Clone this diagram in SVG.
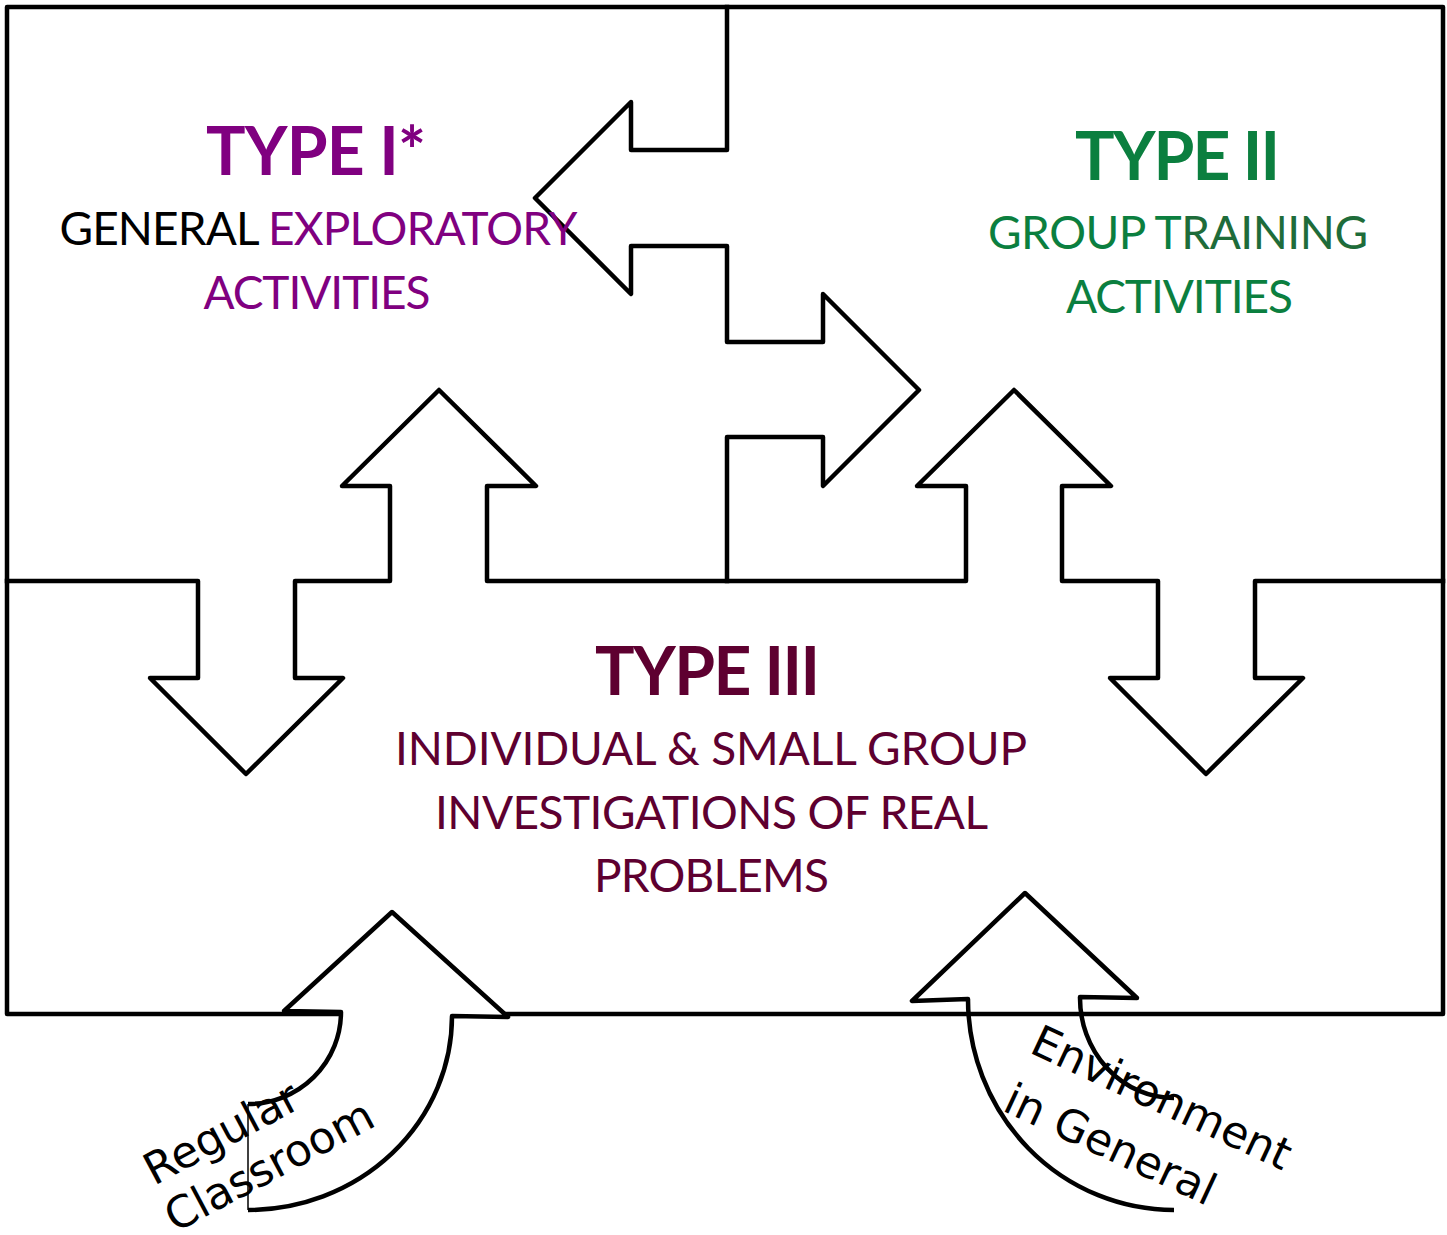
<svg xmlns="http://www.w3.org/2000/svg" width="1447" height="1235" viewBox="0 0 1447 1235">
<style>
.ln{fill:none;stroke:#000;stroke-width:4.5;stroke-linejoin:round;stroke-linecap:square}
.cal{font-family:Lato,"Open Sans","Liberation Sans",sans-serif;text-anchor:middle}
.hd{font-size:66px;font-weight:bold}
.sb{font-size:46px}
.dv{font-family:"DejaVu Sans","Liberation Sans",sans-serif;font-size:44px;fill:#000}
.p{fill:#800080}
.g{fill:#0B7F3F}
.m{fill:#5E0030}
</style>
<rect width="1447" height="1235" fill="#fff"/>
<g id="frame">
<path class="ln" d="M7,581 L7,7 L1443,7 L1443,1014 L7,1014 Z"/>
</g>
<g id="connectors">
<path id="arrows-horizontal" class="ln" d="M727,7 L727,150 L631,150 L631,102 L535,198 L631,294 L631,246 L727,246 L727,342 L823,342 L823,294 L919,390 L823,486 L823,437 L727,437 L727,581"/>
<path id="arrows-vertical" class="ln" d="M7,581 L198,581 L198,678 L150,678 L246,774 L343,678 L295,678 L295,581 L390,581 L390,486 L342,486 L439,390 L536,486 L487,486 L487,581 L966,581 L966,486 L917,486 L1014,390 L1111,486 L1062,486 L1062,581 L1158,581 L1158,678 L1110,678 L1206,774 L1303,678 L1255,678 L1255,581 L1443,581"/>
<g id="arrow-regular-classroom">
<path d="M248,1104 A93,92 0 0 0 341,1012 L284,1011 L392,912 L508,1017 L452,1016 A204,194 0 0 1 248,1210 Z" fill="#fff" stroke="none"/>
<path class="ln" style="stroke-linecap:butt" d="M248,1104 A93,92 0 0 0 341,1012 L284,1011 L392,912 L508,1017 L452,1016 A204,194 0 0 1 248,1210"/>
<line x1="248" y1="1104" x2="248" y2="1210" stroke="#000" stroke-width="1.5"/>
</g>
<g id="arrow-environment">
<path class="ln" style="stroke-linecap:butt" d="M1174,1098 A94,100 0 0 1 1080,997 L1137,998 L1025,893 L912,1001 L968,999 A206,211 0 0 0 1174,1210"/>
</g>
</g>
<g id="type1">
<text class="cal hd p" x="316" y="175" textLength="220">TYPE I*</text>
<text class="cal sb" x="318.5" y="245" textLength="518"><tspan fill="#000">GENERAL </tspan><tspan class="p">EXPLORATORY</tspan></text>
<text class="cal sb p" x="317" y="309" textLength="227">ACTIVITIES</text>
</g>
<g id="type2">
<text class="cal hd g" x="1177.5" y="180" textLength="205" fill="#007F3F">TYPE II</text>
<text class="cal sb" x="1178" y="249" textLength="380"><tspan fill="#0B7F3F">GROUP T</tspan><tspan fill="#1E6C3A">RAINING</tspan></text>
<text class="cal sb g" x="1179.5" y="313" textLength="227">ACTIVITIES</text>
</g>
<g id="type3">
<text class="cal hd m" x="707.5" y="695" textLength="225">TYPE III</text>
<text class="cal sb m" x="711" y="765" textLength="632">INDIVIDUAL &amp; SMALL GROUP</text>
<text class="cal sb m" x="711.5" y="829" textLength="553">INVESTIGATIONS OF REAL</text>
<text class="cal sb m" x="711.5" y="892" textLength="235">PROBLEMS</text>
</g>
<g id="label-regular-classroom">
<text class="dv" transform="translate(154,1186) rotate(-28)">Regular</text>
<text class="dv" transform="translate(175,1233) rotate(-28)">Classroom</text>
</g>
<g id="label-environment">
<text class="dv" transform="translate(1028,1052) rotate(25)">Environment</text>
<text class="dv" transform="translate(1001,1110) rotate(25)">in General</text>
</g>
</svg>
